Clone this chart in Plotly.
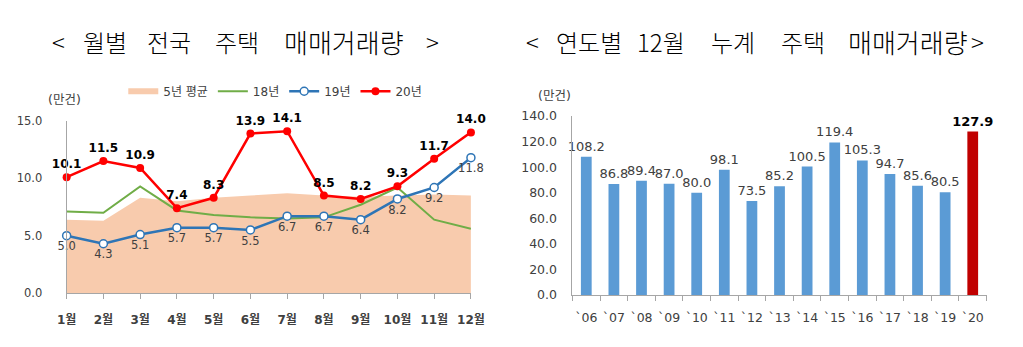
import plotly.graph_objects as go

# ---------------- data ----------------
months = ["1월", "2월", "3월", "4월", "5월", "6월", "7월", "8월", "9월", "10월", "11월", "12월"]
avg5 = [6.4, 6.3, 8.3, 8.0, 8.3, 8.5, 8.7, 8.5, 8.4, 8.5, 8.6, 8.5]
y18 = [7.1, 7.0, 9.3, 7.2, 6.8, 6.6, 6.5, 6.6, 7.7, 9.2, 6.4, 5.6]
y19 = [5.0, 4.3, 5.1, 5.7, 5.7, 5.5, 6.7, 6.7, 6.4, 8.2, 9.2, 11.8]
y20 = [10.1, 11.5, 10.9, 7.4, 8.3, 13.9, 14.1, 8.5, 8.2, 9.3, 11.7, 14.0]

years = ["`06", "`07", "`08", "`09", "`10", "`11", "`12", "`13", "`14", "`15", "`16", "`17", "`18", "`19", "`20"]
dec_total = [108.2, 86.8, 89.4, 87.0, 80.0, 98.1, 73.5, 85.2, 100.5, 119.4, 105.3, 94.7, 85.6, 80.5, 127.9]

left_ticks = [0, 5, 10, 15]
right_ticks = [0, 20, 40, 60, 80, 100, 120, 140]

W, H = 1023, 347
FONT = "DejaVu Sans, Noto Sans CJK KR, sans-serif"
GRAY = "#404040"
AXIS = "#A6A6A6"

def px_x(p):
    return p / W

def px_y(p):
    return (H - p) / H

fig = go.Figure()

# ---------- left chart ----------
fig.add_trace(go.Scatter(
    x=months, y=avg5, name="5년 평균", mode="none", fill="tozeroy",
    fillcolor="#F8CBAD", xaxis="x", yaxis="y", hoverinfo="skip"))
fig.add_trace(go.Scatter(
    x=months, y=y18, name="18년", mode="lines",
    line=dict(color="#70AD47", width=2), xaxis="x", yaxis="y", cliponaxis=False))
fig.add_trace(go.Scatter(
    x=months, y=y19, name="19년", mode="lines+markers+text",
    line=dict(color="#2E75B6", width=2.5),
    marker=dict(symbol="circle", size=8, color="white", line=dict(color="#2E75B6", width=1.5)),
    text=[f"{v:.1f}" for v in y19], textposition="bottom center",
    textfont=dict(family=FONT, size=11.5, color=GRAY),
    xaxis="x", yaxis="y", cliponaxis=False))
fig.add_trace(go.Scatter(
    x=months, y=y20, name="20년", mode="lines+markers+text",
    line=dict(color="#FF0000", width=2.5),
    marker=dict(symbol="circle", size=8, color="#FF0000"),
    text=[f"<b>{v:.1f}</b>" for v in y20], textposition="top center",
    textfont=dict(family=FONT, size=12, color="#000000"),
    xaxis="x", yaxis="y", cliponaxis=False))

# ---------- right chart ----------
fig.add_trace(go.Bar(
    x=years, y=dec_total, showlegend=False,
    marker=dict(color=["#5B9BD5"] * (len(years) - 1) + ["#C00000"], line=dict(width=0)),
    width=0.39,
    text=[f"{v:.1f}" for v in dec_total[:-1]] + [f"<b>{dec_total[-1]:.1f}</b>"],
    textposition="outside", constraintext="none",
    textfont=dict(family=FONT, size=13, color=[GRAY] * (len(years) - 1) + ["#000000"]),
    xaxis="x2", yaxis="y2", cliponaxis=False))

fig.update_layout(
    width=W, height=H,
    margin=dict(l=0, r=0, t=0, b=0),
    paper_bgcolor="white", plot_bgcolor="white",
    font=dict(family=FONT, color=GRAY),
    showlegend=True,
    legend=dict(orientation="h", x=px_x(116), y=px_y(87), xanchor="left", yanchor="middle",
                font=dict(family=FONT, size=12, color=GRAY), bgcolor="rgba(0,0,0,0)",
                itemwidth=30, tracegroupgap=0),
    xaxis=dict(domain=[px_x(58), px_x(472)], type="category", range=[0, 11],
               showline=True, linecolor=AXIS, linewidth=1, ticks="outside", ticklen=5,
               tickcolor=AXIS, showgrid=False, zeroline=False,
               tickfont=dict(family=FONT, size=12, color=GRAY), ticklabelstandoff=10,
               tickvals=months, ticktext=[f"<b>{m}</b>" for m in months]),
    yaxis=dict(domain=[px_y(298), px_y(118)], range=[0, 15], tickvals=left_ticks,
               ticktext=[f"{v:.1f}" for v in left_ticks],
               showline=True, linecolor=AXIS, linewidth=1, ticks="", showgrid=False,
               zeroline=False, tickfont=dict(family=FONT, size=11.5, color=GRAY),
               ticklabelstandoff=21),
    xaxis2=dict(domain=[px_x(576), px_x(1000)], type="category", anchor="y2",
                showline=True, linecolor=AXIS, linewidth=1, ticks="outside", ticklen=5,
                tickcolor=AXIS, tickson="boundaries", showgrid=False, zeroline=False,
                tickangle=0,
                tickfont=dict(family=FONT, size=12.5, color=GRAY), ticklabelstandoff=11),
    yaxis2=dict(domain=[px_y(300), px_y(113)], range=[0, 140], anchor="x2",
                tickvals=right_ticks, ticktext=[f"{v:.1f}" for v in right_ticks],
                showline=True, linecolor=AXIS, linewidth=1, ticks="", showgrid=False,
                zeroline=False, tickfont=dict(family=FONT, size=12.5, color=GRAY),
                ticklabelstandoff=12),
)

# unit labels
fig.add_annotation(text="(만건)", x=px_x(37), y=px_y(86), xref="paper", yref="paper",
                   showarrow=False, font=dict(family=FONT, size=12.5, color=GRAY))
fig.add_annotation(text="(만건)", x=px_x(558), y=px_y(82), xref="paper", yref="paper",
                   showarrow=False, font=dict(family=FONT, size=12.5, color=GRAY))

# titles (word by word to match spacing)
TF = dict(family="Noto Sans CJK KR, sans-serif", size=24, color="#000000", weight=300)
TF_WIDE = dict(family="Noto Sans CJK KR, sans-serif", size=26, color="#000000", weight=300)
left_words = [("<", 50, TF), ("월별", 97, TF), ("전국", 163, TF), ("주택", 232, TF),
              ("매매거래량", 342, TF_WIDE), (">", 433, TF)]
right_words = [("<", 535, TF), ("연도별", 593, TF), ("12월", 667, TF), ("누계", 740, TF),
               ("주택", 812, TF), ("매매거래량", 920, TF_WIDE), (">", 991, TF)]
for w, cx, f in left_words + right_words:
    fig.add_annotation(text=w, x=px_x(cx), y=px_y(35), xref="paper", yref="paper",
                       xanchor="center", yanchor="middle", showarrow=False, font=f)

fig.write_html("out.html")
